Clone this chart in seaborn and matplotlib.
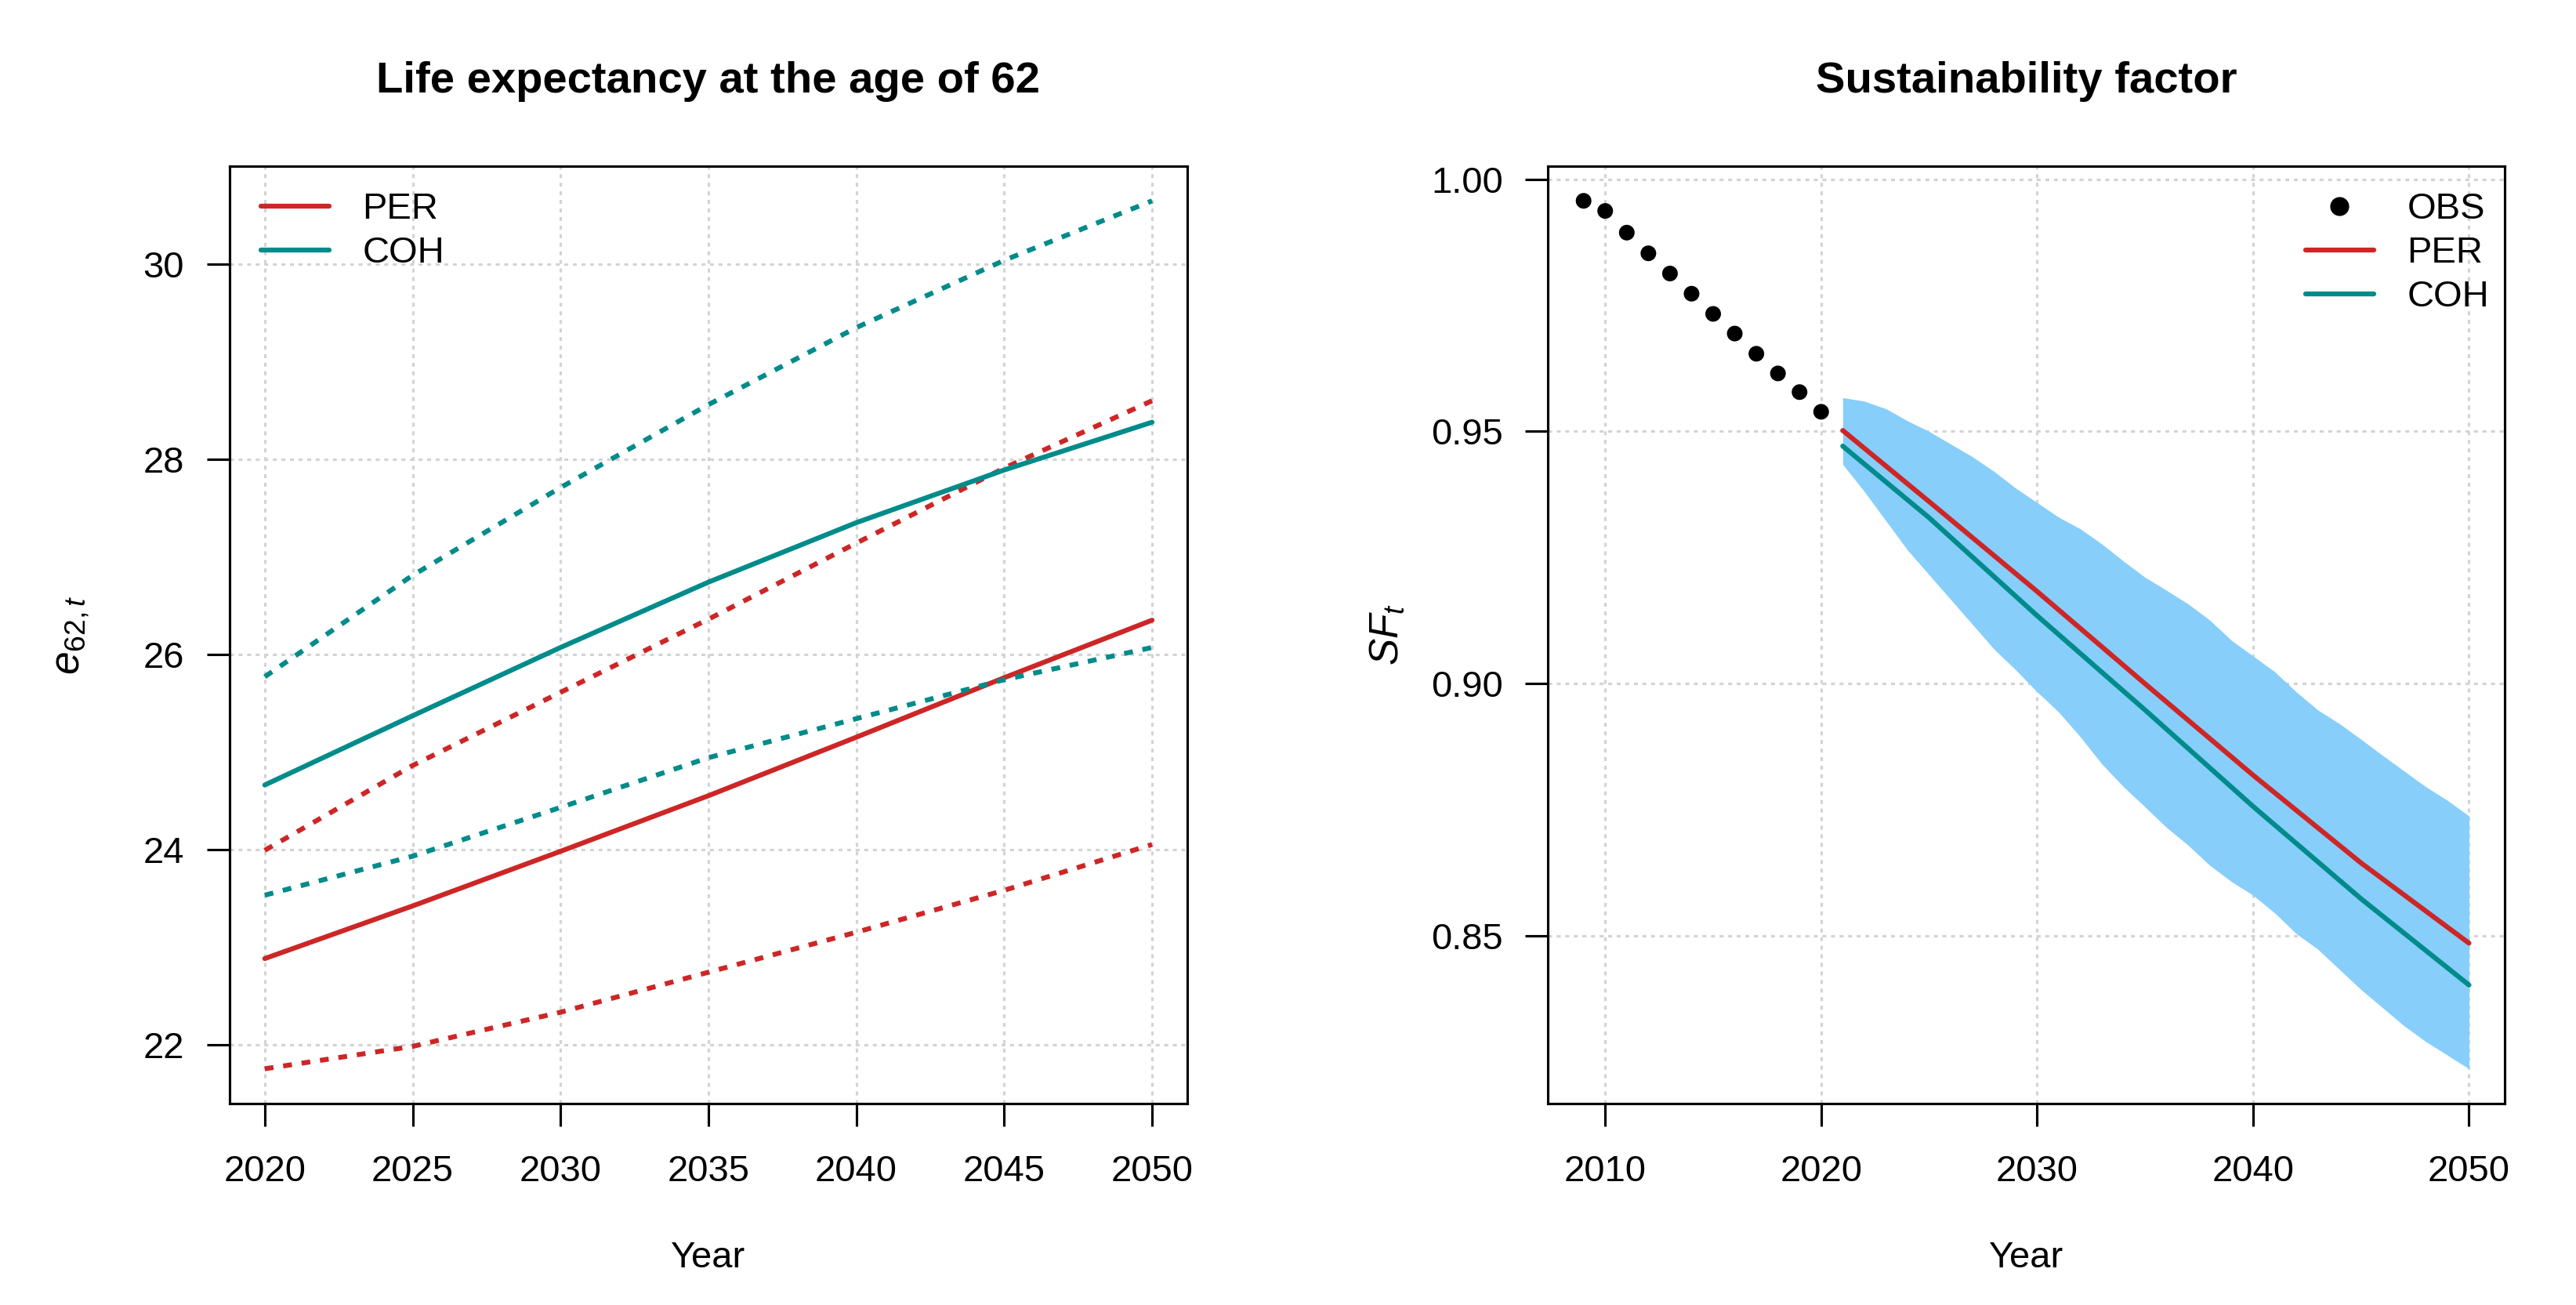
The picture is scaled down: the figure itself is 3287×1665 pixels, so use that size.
import pandas as pd
import matplotlib
matplotlib.use('Agg')
import matplotlib.pyplot as plt
from matplotlib.lines import Line2D
import seaborn as sns

# --- left panel: life expectancy at 62
years_e = [2020, 2025, 2030, 2035, 2040, 2045, 2050]
per_mid = [22.88, 23.42, 23.98, 24.55, 25.15, 25.76, 26.35]
per_lo = [21.75, 21.98, 22.33, 22.74, 23.15, 23.58, 24.05]
per_hi = [23.99, 24.86, 25.61, 26.36, 27.14, 27.91, 28.60]
coh_mid = [24.66, 25.37, 26.07, 26.74, 27.35, 27.89, 28.38]
coh_lo = [23.53, 23.93, 24.43, 24.94, 25.34, 25.74, 26.07]
coh_hi = [25.77, 26.81, 27.71, 28.56, 29.35, 30.04, 30.65]

# --- right panel: sustainability factor
years_obs = [2009, 2010, 2011, 2012, 2013, 2014, 2015, 2016, 2017, 2018, 2019, 2020]
sf_obs = [0.9957, 0.9937, 0.9894, 0.9853, 0.9813, 0.9773, 0.9733, 0.9694,
          0.9654, 0.9615, 0.9578, 0.9539]
years_sf = [2021, 2025, 2030, 2035, 2040, 2045, 2050]
sf_per = [0.9502, 0.9361, 0.9183, 0.9000, 0.8819, 0.8645, 0.8486]
sf_coh = [0.9471, 0.9329, 0.9135, 0.8948, 0.8757, 0.8574, 0.8403]
years_band = list(range(2021, 2051))
band_hi = [0.9567, 0.9560, 0.9545, 0.9521, 0.9500, 0.9475, 0.9450, 0.9421,
           0.9388, 0.9359, 0.9330, 0.9307, 0.9277, 0.9243, 0.9211, 0.9185,
           0.9158, 0.9126, 0.9086, 0.9055, 0.9024, 0.8984, 0.8948, 0.8921,
           0.8890, 0.8858, 0.8827, 0.8796, 0.8769, 0.8738]
band_lo = [0.9435, 0.9381, 0.9323, 0.9265, 0.9216, 0.9167, 0.9118, 0.9069,
           0.9028, 0.8984, 0.8944, 0.8895, 0.8841, 0.8796, 0.8756, 0.8715,
           0.8680, 0.8640, 0.8608, 0.8581, 0.8546, 0.8505, 0.8474, 0.8434,
           0.8394, 0.8358, 0.8322, 0.8291, 0.8264, 0.8237]

RED = '#CD2626'
TEAL = '#008B8B'
BAND = '#87CEFA'
GRID = '#D3D3D3'

sns.set_style('white')
plt.rcParams['font.family'] = ['Liberation Sans', 'DejaVu Sans']
plt.rcParams['mathtext.fontset'] = 'custom'
plt.rcParams['mathtext.rm'] = 'Liberation Sans'
plt.rcParams['mathtext.it'] = 'Liberation Sans:italic'
for k in ['text.color', 'axes.labelcolor', 'xtick.color', 'ytick.color']:
    plt.rcParams[k] = 'black'
FS = 11.3
LW = 1.5

# long table for the left panel
rows = []
for model, parts in [('PER', [('mid', per_mid), ('lo', per_lo), ('hi', per_hi)]),
                     ('COH', [('mid', coh_mid), ('lo', coh_lo), ('hi', coh_hi)])]:
    for kind, vals in parts:
        for y, v in zip(years_e, vals):
            rows.append({'year': y, 'value': v, 'model': model, 'kind': kind})
df_e = pd.DataFrame(rows)

df_sf = pd.concat([
    pd.DataFrame({'year': years_sf, 'value': sf_per, 'model': 'PER'}),
    pd.DataFrame({'year': years_sf, 'value': sf_coh, 'model': 'COH'}),
])
df_obs = pd.DataFrame({'year': years_obs, 'value': sf_obs})

fig = plt.figure(figsize=(3287 / 300, 1665 / 300), dpi=300)
ax1 = fig.add_axes([0.0890, 0.1544, 0.3720, 0.7183])
ax2 = fig.add_axes([0.6010, 0.1544, 0.3712, 0.7183])

pal = {'PER': RED, 'COH': TEAL}


def style_axes(ax):
    ax.set_axisbelow(True)
    ax.grid(True, color=GRID, linestyle=(0, (1.6, 1.9)), linewidth=0.75)
    for s in ax.spines.values():
        s.set_visible(True)
        s.set_linewidth(0.75)
        s.set_color('black')
    ax.tick_params(axis='both', direction='out', length=7, width=0.75,
                   labelsize=FS, color='black', left=True, bottom=True)
    ax.tick_params(axis='x', pad=8.5)
    ax.tick_params(axis='y', pad=6.8)
    ax.set_xlabel('Year', fontsize=FS, labelpad=16)


# left panel
sns.lineplot(data=df_e, x='year', y='value', hue='model', style='kind',
             palette=pal, dashes={'mid': '', 'lo': (1.8, 2.0), 'hi': (1.8, 2.0)},
             linewidth=LW, errorbar=None, legend=False, ax=ax1)
ax1.set_xlim(2018.8, 2051.2)
lo_e, hi_e = min(per_lo), max(coh_hi)
pad_e = (hi_e - lo_e) * 0.04
ax1.set_ylim(lo_e - pad_e, hi_e + pad_e)
ax1.set_xticks(range(2020, 2051, 5))
ax1.set_yticks([22, 24, 26, 28, 30])
style_axes(ax1)
ax1.set_ylabel('')
ax1.text(-0.1645, 0.5, r'$e_{\mathit{62,t}}$', transform=ax1.transAxes,
         rotation=90, ha='center', va='center', fontsize=FS + 1.5)
ax1.set_title('Life expectancy at the age of 62', fontsize=13.5,
              fontweight='bold', pad=22.6)
h1 = [Line2D([], [], color=RED, lw=LW), Line2D([], [], color=TEAL, lw=LW)]
ax1.legend(h1, ['PER', 'COH'], loc='upper left', bbox_to_anchor=(0.033, 0.972),
           frameon=False, fontsize=FS, borderpad=0, borderaxespad=0,
           handlelength=1.85, handletextpad=0.9, labelspacing=0.25)

# right panel
ax2.fill_between(years_band, band_lo, band_hi, color=BAND, linewidth=0, zorder=2)
sns.lineplot(data=df_sf, x='year', y='value', hue='model', palette=pal,
             linewidth=LW, errorbar=None, legend=False, ax=ax2, zorder=3)
sns.scatterplot(data=df_obs, x='year', y='value', color='black', s=23,
                edgecolor='none', legend=False, ax=ax2, zorder=3)
ax2.set_xlim(2007.36, 2051.64)
lo_s, hi_s = min(band_lo), max(sf_obs)
pad_s = (hi_s - lo_s) * 0.04
ax2.set_ylim(lo_s - pad_s, hi_s + pad_s)
ax2.set_xticks(range(2010, 2051, 10))
ax2.set_yticks([0.85, 0.90, 0.95, 1.00])
ax2.set_yticklabels(['0.85', '0.90', '0.95', '1.00'])
style_axes(ax2)
ax2.set_ylabel('')
ax2.text(-0.168, 0.5, r'$SF_t$', transform=ax2.transAxes,
         rotation=90, ha='center', va='center', fontsize=FS + 1)
ax2.set_title('Sustainability factor', fontsize=13.5, fontweight='bold', pad=22.6)
h2 = [Line2D([], [], color='black', marker='o', markersize=4.8, lw=0),
      Line2D([], [], color=RED, lw=LW), Line2D([], [], color=TEAL, lw=LW)]
ax2.legend(h2, ['OBS', 'PER', 'COH'], loc='upper right',
           bbox_to_anchor=(0.984, 0.972), frameon=False, fontsize=FS,
           borderpad=0, borderaxespad=0, handlelength=1.85, handletextpad=0.9,
           labelspacing=0.25)

fig.savefig('out.png', dpi=300)
